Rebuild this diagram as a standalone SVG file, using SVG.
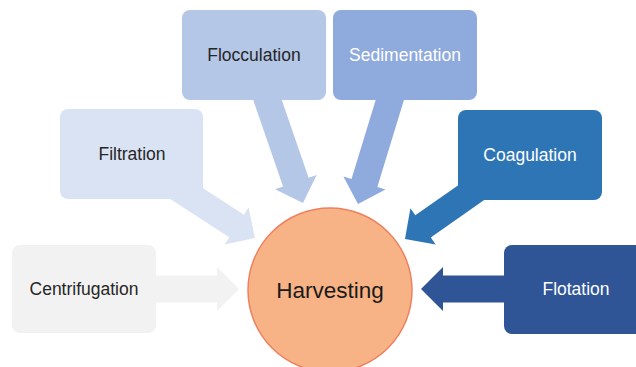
<svg xmlns="http://www.w3.org/2000/svg" width="636" height="367" viewBox="0 0 636 367">
<style>
.lbl{font-family:"Liberation Sans",Arial,sans-serif;font-size:17.5px;text-anchor:middle}
.dark{fill:#262626}
.light{fill:#ffffff}
.hv{font-family:"Liberation Sans",Arial,sans-serif;font-size:22.5px;text-anchor:middle;fill:#1a1a1a}
</style>
<defs>
<polygon id="arr100" points="-100,-13.5 -22,-13.5 -22,-22 0,0 -22,22 -22,13.5 -100,13.5"/>
<polygon id="arr120" points="-120,-13.5 -22,-13.5 -22,-22 0,0 -22,22 -22,13.5 -120,13.5"/>
<polygon id="arr95" points="-95,-13.5 -22,-13.5 -22,-22 0,0 -22,22 -22,13.5 -95,13.5"/>
</defs>
<rect width="636" height="367" fill="#ffffff"/>
<g id="connectors">
<use href="#arr100" transform="translate(239,289)" fill="#f2f2f2"/>
<use href="#arr95" transform="translate(255,238) rotate(33)" fill="#dae3f3"/>
<use href="#arr120" transform="translate(303,203) rotate(71)" fill="#b4c7e7"/>
<use href="#arr120" transform="translate(358,204) rotate(107)" fill="#8faadc"/>
<use href="#arr95" transform="translate(405,239) rotate(145)" fill="#2e75b6"/>
<use href="#arr100" transform="translate(421,289) rotate(180)" fill="#2f5597"/>
</g>
<g id="centrifugation">
<rect x="12" y="245" width="144" height="88" rx="8" fill="#f2f2f2"/>
<text class="lbl dark" x="84" y="295">Centrifugation</text>
</g>
<g id="filtration">
<rect x="60" y="109" width="143" height="90" rx="8" fill="#dae3f3"/>
<text class="lbl dark" x="132" y="160">Filtration</text>
</g>
<g id="flocculation">
<rect x="182" y="10" width="144" height="90" rx="8" fill="#b4c7e7"/>
<text class="lbl dark" x="254" y="61">Flocculation</text>
</g>
<g id="sedimentation">
<rect x="333" y="10" width="144" height="90" rx="8" fill="#8faadc"/>
<text class="lbl light" x="405" y="61">Sedimentation</text>
</g>
<g id="coagulation">
<rect x="458" y="110" width="144" height="90" rx="8" fill="#2e75b6"/>
<text class="lbl light" x="530" y="161">Coagulation</text>
</g>
<g id="flotation">
<rect x="504" y="245" width="144" height="89" rx="8" fill="#2f5597"/>
<text class="lbl light" x="576" y="295">Flotation</text>
</g>
<g id="harvesting">
<circle cx="330" cy="290" r="82" fill="#f7b385" stroke="#ee8060" stroke-width="1.5"/>
<text class="hv" x="330" y="298">Harvesting</text>
</g>
</svg>
